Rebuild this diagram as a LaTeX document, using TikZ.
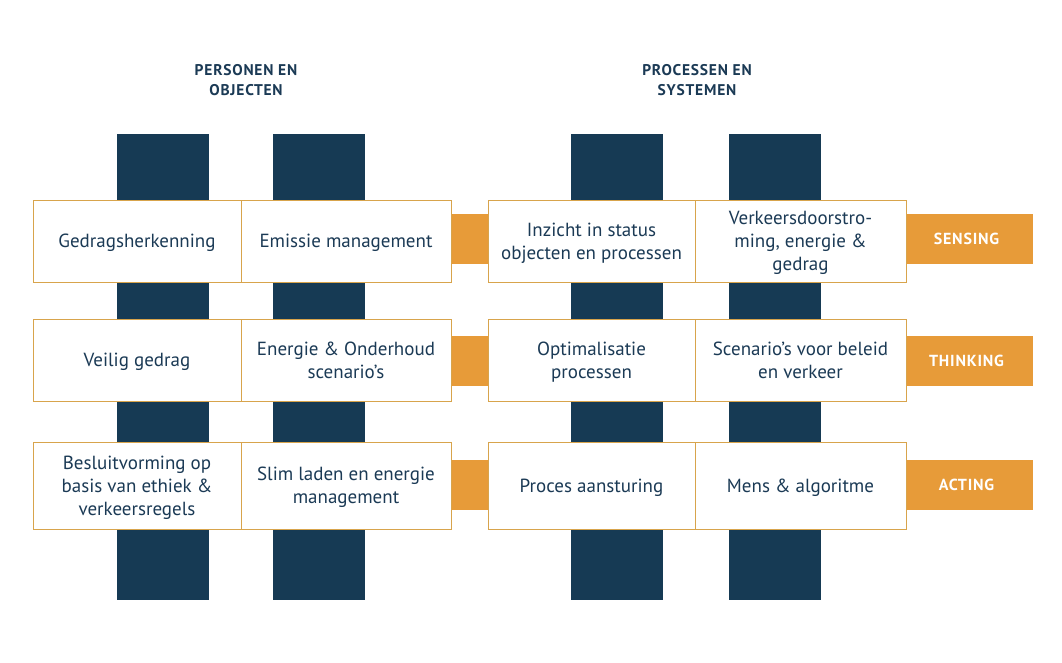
\documentclass[tikz,border=0pt]{standalone}
\usepackage{fontspec}
\setmainfont{PT Sans}
\definecolor{navy}{HTML}{163A54}
\definecolor{orng}{HTML}{E79B39}
\definecolor{edge}{HTML}{D8A44C}
\definecolor{txt}{HTML}{1B3A55}
\begin{document}
\begin{tikzpicture}[x=1pt,y=-1pt,
  pillar/.style={fill=navy,draw=none,minimum width=92pt,minimum height=466pt,inner sep=0pt,outer sep=0pt},
  link/.style={fill=orng,draw=none,minimum width=#1,minimum height=50pt,inner sep=0pt,outer sep=0pt},
  cell/.style={fill=white,draw=edge,line width=0.9pt,minimum width=#1,inner sep=0pt,outer sep=0pt,align=center,text=txt,font=\fontsize{19}{23}\selectfont},
  head/.style={text=txt,align=center,font=\fontsize{15.5}{20}\selectfont\bfseries\addfontfeatures{LetterSpace=5}},
  tag/.style={text=white,font=\fontsize{16}{18}\selectfont\bfseries\addfontfeatures{LetterSpace=5}}]
\useasboundingbox (0,0) rectangle (1062,662);
% headings
\node[head] (h1) at (246,80) {PERSONEN EN\\OBJECTEN};
\node[head] (h2) at (697,80) {PROCESSEN EN\\SYSTEMEN};
% pillars
\node[pillar] (p1) at (163,367) {};
\node[pillar] (p2) at (319,367) {};
\node[pillar] (p3) at (617,367) {};
\node[pillar] (p4) at (775,367) {};
% orange links
\node[link=40pt] (m1) at (469.5,239) {};
\node[link=40pt] (m2) at (469.5,361) {};
\node[link=40pt] (m3) at (469.5,485) {};
\node[link=127pt] (s1) at (969.5,239) {};
\node[link=127pt] (s2) at (969.5,361) {};
\node[link=127pt] (s3) at (969.5,485) {};
\node[tag] (t1) at ([xshift=-3pt]s1) {SENSING};
\node[tag] (t2) at ([xshift=-3pt]s2) {THINKING};
\node[tag] (t3) at ([xshift=-3pt]s3) {ACTING};
% row 1
\begin{scope}[every node/.append style={text depth=0pt}]
\node[cell=208pt,minimum height=82pt] (a11) at (137,241) {Gedragsherkenning};
\node[cell=210pt,minimum height=82pt] (a12) at (346,241) {Emissie management};
\node[cell=207pt,minimum height=82pt] (a13) at (591.5,241) {Inzicht in status\\objecten en processen};
\node[cell=211pt,minimum height=82pt] (a14) at (800.5,241) {Verkeersdoorstro-\\ming, energie \&\\gedrag};
% row 2
\node[cell=208pt,minimum height=82pt] (a21) at (137,360) {Veilig gedrag};
\node[cell=210pt,minimum height=82pt] (a22) at (346,360) {Energie \& Onderhoud\\scenario’s};
\node[cell=207pt,minimum height=82pt] (a23) at (591.5,360) {Optimalisatie\\processen};
\node[cell=211pt,minimum height=82pt] (a24) at (800.5,360) {Scenario’s voor beleid\\en verkeer};
% row 3
\node[cell=208pt,minimum height=87pt] (a31) at (137,485.5) {Besluitvorming op\\basis van ethiek \&\\verkeersregels};
\node[cell=210pt,minimum height=87pt] (a32) at (346,485.5) {Slim laden en energie\\management};
\node[cell=207pt,minimum height=87pt] (a33) at (591.5,485.5) {Proces aansturing};
\node[cell=211pt,minimum height=87pt] (a34) at (800.5,485.5) {Mens \& algoritme};
\end{scope}
\end{tikzpicture}
\end{document}
